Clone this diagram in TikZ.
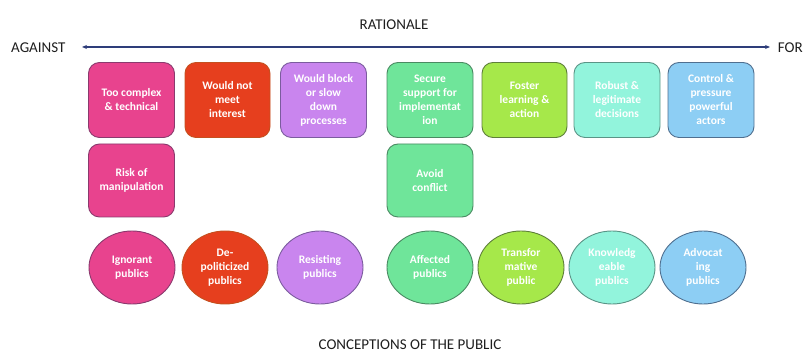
\documentclass[tikz,border=0pt]{standalone}
\usepackage{fontspec}
\setmainfont{Carlito}
\usetikzlibrary{arrows.meta,shapes.geometric}
\definecolor{pinkf}{HTML}{E8438E}\definecolor{pinkd}{HTML}{8A3A6E}
\definecolor{redf}{HTML}{E63F1E}\definecolor{redd}{HTML}{C4501F}
\definecolor{lilacf}{HTML}{C985EE}\definecolor{lilacd}{HTML}{7B5C9E}
\definecolor{greenf}{HTML}{6FE59A}\definecolor{greend}{HTML}{4A8A62}
\definecolor{limef}{HTML}{A6E84A}\definecolor{limed}{HTML}{5E7F3A}
\definecolor{aquaf}{HTML}{92F4DC}\definecolor{aquad}{HTML}{5A9486}
\definecolor{bluef}{HTML}{8DCEF4}\definecolor{blued}{HTML}{4F6F8F}
\definecolor{axisc}{HTML}{2E3D7A}
\definecolor{headc}{HTML}{1E1E1E}
\begin{document}
\begin{tikzpicture}[x=1pt, y=-1pt, line join=round, line cap=round,
	head/.style={text=headc, font=\fontsize{15}{18}\selectfont, inner sep=0pt},
	box/.style={draw, line width=0.9pt, rounded corners=11pt, minimum width=86pt, minimum height=75pt, inner sep=1pt,
		text=white, align=center, font=\fontsize{11.5}{14}\selectfont\bfseries},
	pub/.style={ellipse, draw, line width=0.9pt, minimum width=86pt, minimum height=73pt, inner sep=0pt,
		text=white, align=center, font=\fontsize{11.5}{14}\selectfont\bfseries}]
	\useasboundingbox (0,0) rectangle (803,352);
	
	% axis
	\node[head] (rationale) at (394,25) {RATIONALE};
	\node[head, anchor=west] (against) at (11,48) {AGAINST};
	\node[head, anchor=east] (for) at (803,48) {FOR};
	\coordinate (axl) at (82,47);
	\coordinate (axr) at (770,47);
	\draw[{Stealth[length=5pt,width=4pt]}-{Stealth[length=5pt,width=4pt]}, axisc, line width=1.1pt] (axl)--(axr);
	
	% rationale boxes
	\node[box, fill=pinkf, draw=pinkd] (complex) at (131.5,100) {Too complex\\ \& technical};
	\node[box, fill=redf, draw=redd, minimum width=85pt] (interest) at (227.5,100) {Would not\\ meet\\ interest};
	\node[box, fill=lilacf, draw=lilacd] (block) at (323.5,100) {Would block\\ or slow\\ down\\ processes};
	\node[box, fill=greenf, draw=greend] (support) at (430,100) {Secure\\ support for\\ implementat\\ ion};
	\node[box, fill=limef, draw=limed, minimum width=85pt] (learning) at (524.5,100) {Foster\\ learning \&\\ action};
	\node[box, fill=aquaf, draw=aquad] (robust) at (617,100) {Robust \&\\ legitimate\\ decisions};
	\node[box, fill=bluef, draw=blued] (control) at (711,100) {Control \&\\ pressure\\ powerful\\ actors};
	\node[box, fill=pinkf, draw=pinkd, minimum height=73pt] (manip) at (131.5,180.5) {Risk of\\ manipulation};
	\node[box, fill=greenf, draw=greend, minimum height=73pt] (conflict) at (430,180.5) {Avoid\\ conflict};
	
	% publics
	\node[pub, fill=pinkf, draw=pinkd] (ignorant) at (132,267.5) {Ignorant\\ publics};
	\node[pub, fill=redf, draw=redd] (depol) at (225,267.5) {De-\\ politicized\\ publics};
	\node[pub, fill=lilacf, draw=lilacd] (resist) at (320,267.5) {Resisting\\ publics};
	\node[pub, fill=greenf, draw=greend] (affected) at (430,267.5) {Affected\\ publics};
	\node[pub, fill=limef, draw=limed] (transf) at (521,267.5) {Transfor\\ mative\\ public};
	\node[pub, fill=aquaf, draw=aquad] (knowl) at (612,267.5) {Knowledg\\ eable\\ publics};
	\node[pub, fill=bluef, draw=blued] (advoc) at (703,267.5) {Advocat\\ ing\\ publics};
	
	\node[head] (conceptions) at (410,345) {CONCEPTIONS OF THE PUBLIC};
\end{tikzpicture}
\end{document}
